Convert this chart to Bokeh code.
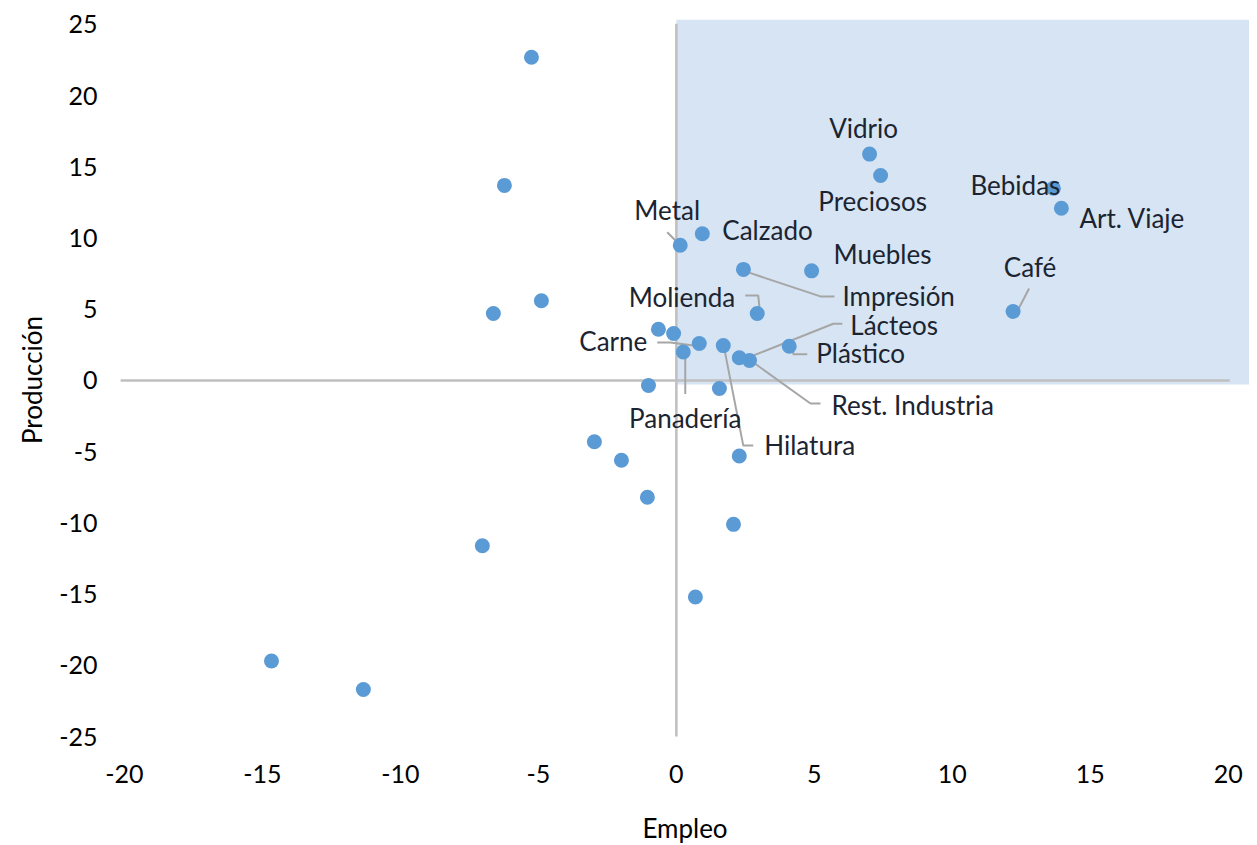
from bokeh.plotting import figure
from bokeh.models import ColumnDataSource, FixedTicker, Range1d
from bokeh.embed import file_html
from bokeh.resources import INLINE
from bokeh.core.properties import value

# ---------------- data ----------------
labeled_names = ["Vidrio", "Preciosos", "Bebidas", "Art. Viaje", "Café", "Muebles",
                 "Impresión", "Calzado", "Metal", "Molienda", "Carne", "Panadería",
                 "Hilatura", "Lácteos", "Rest. Industria", "Plástico"]
labeled_empleo = [7.0, 7.4, 13.66, 13.95, 12.2, 4.9, 2.43, 0.94, 0.14, 2.93, 0.83, 0.25,
                  1.7, 2.28, 2.65, 4.09]
labeled_produccion = [15.9, 14.4, 13.5, 12.1, 4.85, 7.7, 7.8, 10.3, 9.5, 4.7, 2.6, 2.0,
                      2.45, 1.6, 1.4, 2.4]

other_empleo = [-5.25, -6.23, -4.89, -6.63, -14.67, -11.34, -7.03, -2.97, -1.99, -1.05,
                -1.01, 0.69, 2.07, 2.28, 1.56, -0.65, -0.1]
other_produccion = [22.7, 13.7, 5.6, 4.7, -19.7, -21.7, -11.6, -4.3, -5.6, -8.2,
                    -0.35, -15.2, -10.1, -5.3, -0.56, 3.6, 3.3]

x_ticks = [-20, -15, -10, -5, 0, 5, 10, 15, 20]
y_ticks = [-25, -20, -15, -10, -5, 0, 5, 10, 15, 20, 25]

# ---------------- label layout (screen-pixel offsets from each point) ----------------
label_layout = {
    "Vidrio":          ("center", -6, -26, []),
    "Preciosos":       ("center", -8, 26, []),
    "Bebidas":         ("center", -38, -3, []),
    "Art. Viaje":      ("left", 18, 10, []),
    "Café":            ("center", 17, -44, [(3, 2), (16, -23)]),
    "Muebles":         ("left", 22, -17, []),
    "Impresión":       ("left", 99, 27, [(5, 3), (77, 27), (91, 27)]),
    "Calzado":         ("left", 20, -4, []),
    "Metal":           ("center", -13, -35, [(-13, -13), (0, 0)]),
    "Molienda":        ("right", -22, -17, [(-12, -18), (1, -18), (3, 2)]),
    "Carne":           ("right", -52, -2, [(-42, -1), (-29, -1), (2, 3)]),
    "Panadería":       ("center", 2, 66, [(2, 2), (2, 42)]),
    "Hilatura":        ("left", 41, 99, [(1, 3), (20, 100), (30, 100)]),
    "Lácteos":         ("left", 111, -33, [(11, -1), (94, -34), (103, -34)]),
    "Rest. Industria": ("left", 82, 44, [(4, 2), (61, 43), (71, 43)]),
    "Plástico":        ("left", 27, 7, [(4, 3), (4, 8), (18, 8)]),
}

# ---------------- figure ----------------
FRAME_W, FRAME_H = 1129, 721
X_START = -20.14
X_END = X_START + FRAME_W / 27.6
Y_START, Y_END = -25.28, 25.35
sx = FRAME_W / (X_END - X_START)
sy = FRAME_H / (Y_END - Y_START)

FONT = "Lato"

p = figure(frame_width=FRAME_W, frame_height=FRAME_H,
           x_range=Range1d(X_START, X_END), y_range=Range1d(Y_START, Y_END),
           output_backend="svg", toolbar_location=None,
           min_border_left=120, min_border_right=0, min_border_top=19, min_border_bottom=95)

p.background_fill_color = "white"
p.border_fill_color = "white"
p.outline_line_color = None
p.xgrid.visible = False
p.ygrid.visible = False

for ax in (p.xaxis[0], p.yaxis[0]):
    ax.axis_line_color = None
    ax.major_tick_line_color = None
    ax.minor_tick_line_color = None
    ax.major_label_text_font = FONT
    ax.major_label_text_font_size = "25px"
    ax.major_label_text_color = "#000000"
    ax.axis_label_text_font = FONT
    ax.axis_label_text_font_size = "26px"
    ax.axis_label_text_font_style = "normal"
    ax.axis_label_text_color = "#000000"

p.xaxis.ticker = FixedTicker(ticks=x_ticks)
p.yaxis.ticker = FixedTicker(ticks=y_ticks)
p.xaxis.major_label_overrides = {t: str(t) for t in x_ticks}
p.yaxis.major_label_overrides = {t: str(t) for t in y_ticks}
p.xaxis.axis_label = "Empleo"
p.yaxis.axis_label = "Producción"
p.xaxis.major_label_standoff = 18
p.yaxis.major_label_standoff = 17
p.xaxis.axis_label_standoff = 26
p.yaxis.axis_label_standoff = 8

# shaded quadrant
p.quad(left=[0], right=[X_END], bottom=[-4 / sy], top=[Y_END],
       fill_color="#D6E4F3", line_color=None)

# zero axes lines
p.segment(x0=[x_ticks[0] - 0.15, 0], y0=[0, y_ticks[0]],
          x1=[x_ticks[-1] + 0.05, 0], y1=[0, y_ticks[-1] + 0.05],
          line_color="#BFBFBF", line_width=2.5)

# leader lines
xs, ys = [], []
for name, ex, py in zip(labeled_names, labeled_empleo, labeled_produccion):
    path = label_layout[name][3]
    if path:
        xs.append([ex + dx / sx for dx, dy in path])
        ys.append([py - dy / sy for dx, dy in path])
if xs:
    p.multi_line(xs=xs, ys=ys, line_color="#A6A6A6", line_width=2)

# points
p.scatter(x=other_empleo, y=other_produccion, size=15, marker="circle",
          fill_color="#5B9BD5", line_color=None)
p.scatter(x=labeled_empleo, y=labeled_produccion, size=15, marker="circle",
          fill_color="#5B9BD5", line_color=None)

# labels
src = ColumnDataSource(dict(
    x=labeled_empleo, y=labeled_produccion, text=labeled_names,
    align=[label_layout[n][0] for n in labeled_names],
    xo=[label_layout[n][1] for n in labeled_names],
    yo=[label_layout[n][2] for n in labeled_names],
))
p.text(x="x", y="y", text="text", source=src, x_offset="xo", y_offset="yo",
       text_align="align", text_baseline="middle",
       text_font=value(FONT), text_font_size="26px", text_color="#1B2430")

open("out.html", "w").write(file_html(p, INLINE))
